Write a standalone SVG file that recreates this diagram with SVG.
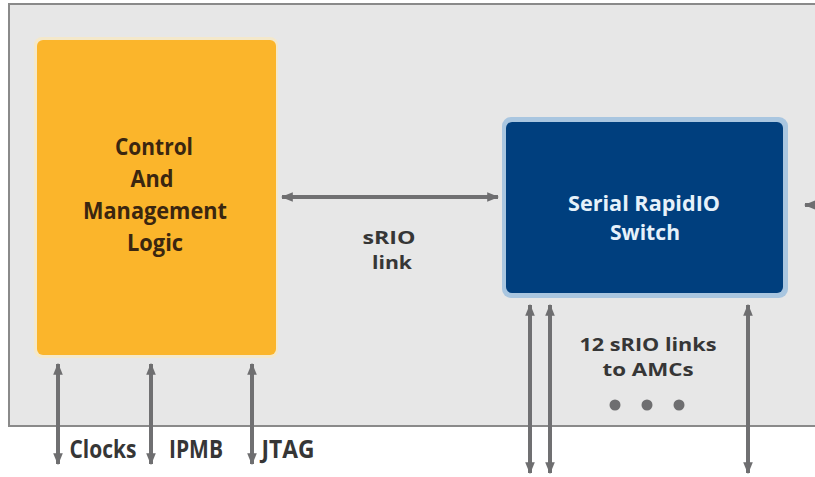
<svg xmlns="http://www.w3.org/2000/svg" width="815" height="477" viewBox="0 0 815 477">
  <defs>
    <marker id="ah" viewBox="0 0 10 10" refX="9" refY="5" markerWidth="3" markerHeight="3" orient="auto-start-reverse" markerUnits="strokeWidth">
      <path d="M0,1 L10,5 L0,9 Z" fill="#6e6e70"/>
    </marker>
  </defs>
  <style>
    .lbl { font-family: "Open Sans", "Liberation Sans", sans-serif; font-weight: bold; text-anchor: middle; }
    .dark { fill: #363636; font-size: 18px; }
    .big { font-size: 25px; }
    .brown { fill: #3a2610; font-size: 24px; }
    .light { fill: #e6f1fa; font-size: 21px; }
    .link { stroke: #707072; stroke-width: 4; fill: none; marker-start: url(#ah); marker-end: url(#ah); }
  </style>

  <rect x="0" y="0" width="815" height="477" fill="#ffffff"/>

  <!-- carrier panel -->
  <g id="panel">
    <rect x="9" y="4" width="820" height="422" fill="#e7e7e7" stroke="#8a8a8a" stroke-width="2"/>
  </g>

  <!-- control and management logic block -->
  <g id="control">
    <rect x="34" y="37" width="244" height="321" rx="8" fill="#fde9b8" opacity="0.6"/>
    <rect x="37" y="40" width="239" height="315" rx="6" fill="#fbb52b"/>
    <text class="lbl brown" x="154" y="155" textLength="78" lengthAdjust="spacingAndGlyphs">Control</text>
    <text class="lbl brown" x="152" y="187" textLength="43" lengthAdjust="spacingAndGlyphs">And</text>
    <text class="lbl brown" x="155" y="219" textLength="144" lengthAdjust="spacingAndGlyphs">Management</text>
    <text class="lbl brown" x="155" y="251" textLength="56" lengthAdjust="spacingAndGlyphs">Logic</text>
  </g>

  <!-- serial rapidio switch block -->
  <g id="switch">
    <rect x="502" y="117" width="286" height="181" rx="9" fill="#a9c6e0"/>
    <rect x="506" y="122" width="277" height="171" rx="6" fill="#003f7e"/>
    <text class="lbl light" x="644" y="211" textLength="152" lengthAdjust="spacingAndGlyphs">Serial RapidIO</text>
    <text class="lbl light" x="645" y="240" textLength="70" lengthAdjust="spacingAndGlyphs">Switch</text>
  </g>

  <!-- connectors -->
  <g id="connectors">
    <line class="link" x1="282" y1="197" x2="498" y2="197"/>
    <line class="link" x1="58" y1="364" x2="58" y2="464"/>
    <line class="link" x1="151" y1="364" x2="151" y2="464"/>
    <line class="link" x1="252" y1="364" x2="252" y2="464"/>
    <line class="link" x1="530" y1="305" x2="530" y2="473"/>
    <line class="link" x1="550" y1="305" x2="550" y2="473"/>
    <line class="link" x1="748" y1="305" x2="748" y2="473"/>
    <line stroke="#707072" stroke-width="4" x1="830" y1="205" x2="805" y2="205" marker-end="url(#ah)"/>
  </g>

  <!-- labels -->
  <g id="labels">
    <text class="lbl dark" x="389" y="244" textLength="53" lengthAdjust="spacingAndGlyphs">sRIO</text>
    <text class="lbl dark" x="392" y="269" textLength="40" lengthAdjust="spacingAndGlyphs">link</text>
    <text class="lbl dark" x="648" y="351" textLength="137" lengthAdjust="spacingAndGlyphs">12 sRIO links</text>
    <text class="lbl dark" x="648" y="376" textLength="91" lengthAdjust="spacingAndGlyphs">to AMCs</text>
    <circle cx="615" cy="405" r="5.5" fill="#6e6e70"/>
    <circle cx="647" cy="405" r="5.5" fill="#6e6e70"/>
    <circle cx="679" cy="405" r="5.5" fill="#6e6e70"/>
    <text class="lbl dark big" x="103" y="458" textLength="67" lengthAdjust="spacingAndGlyphs">Clocks</text>
    <text class="lbl dark big" x="196" y="458" textLength="54" lengthAdjust="spacingAndGlyphs">IPMB</text>
    <text class="lbl dark big" x="288" y="458" textLength="53" lengthAdjust="spacingAndGlyphs">JTAG</text>
  </g>
</svg>
